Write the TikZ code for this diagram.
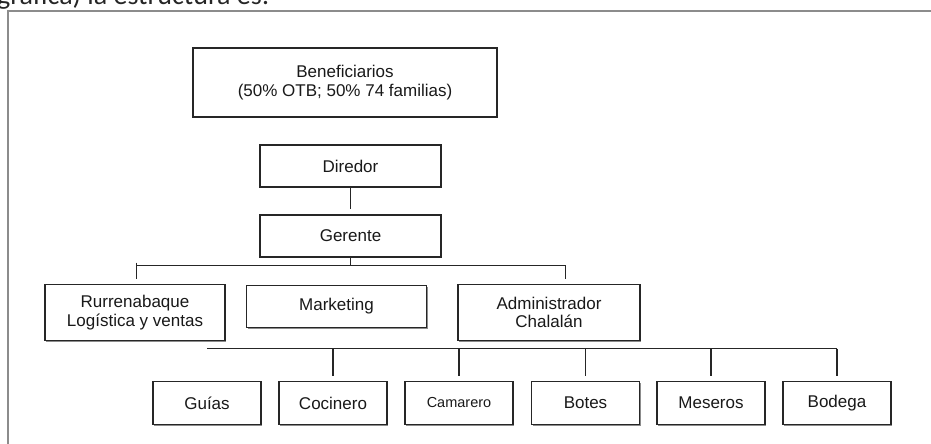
\documentclass[tikz,border=0pt]{standalone}
\usepackage{fontspec}
\setmainfont{Liberation Sans}
\newfontfamily\bodyfont{Carlito}
\usetikzlibrary{calc,shadows}
\begin{document}
\begin{tikzpicture}[x=1pt,y=-1pt,
  box/.style={draw=black!85, line width=1.3pt, fill=white, inner sep=0pt,
    align=center, font=\fontsize{17}{18.5}\selectfont, text=black!90,
    drop shadow={shadow xshift=1.3pt, shadow yshift=-1.3pt, opacity=1, fill=black!45}},
  link/.style={draw=black!85, line width=1.3pt},
  frameline/.style={draw=black!45, line width=1.5pt}]
\useasboundingbox (0,0) rectangle (931,444);
\clip (0,0) rectangle (931,444);
\fill[white] (0,0) rectangle (931,444);

% cropped text line at the top
\node[anchor=base west, inner sep=0pt, font=\bodyfont\fontsize{28}{30}\selectfont, text=black!85] (intro) at (-3,5) {gráfica) la estructura es:};

% frame
\coordinate (fa) at (8,444);
\coordinate (fb) at (8,11);
\coordinate (fc) at (931,11);
\draw[frameline] (fa) -- (fb) -- (fc);

% boxes
\node[box, minimum width=304pt, minimum height=69pt] (ben) at (345,82.5)
  {Beneficiarios\\(50\% OTB; 50\% 74 familias)};
\node[box, minimum width=181pt, minimum height=42pt] (dir) at (350.5,166) {Diredor};
\node[box, minimum width=181pt, minimum height=42pt] (ger) at (350.5,236) {Gerente};

\node[box, minimum width=180pt, minimum height=56pt] (rur) at (135,312.5)
  {Rurrenabaque\\Logística y ventas};
\node[box, minimum width=180pt, minimum height=42pt] (mkt) at (336.5,306.5) {Marketing};
\node[box, minimum width=182pt, minimum height=56pt] (adm) at (549,312.5)
  {Administrador\\Chalalán};

\node[box, minimum width=108pt, minimum height=43pt] (gui) at (207,403) {Guías};
\node[box, minimum width=108pt, minimum height=43pt] (coc) at (333,403) {Cocinero};
\node[box, minimum width=108pt, minimum height=43pt, font=\fontsize{14.5}{16}\selectfont] (cam) at (459,403) {\raisebox{2pt}{Camarero}};
\node[box, minimum width=108pt, minimum height=43pt] (bot) at (585.5,403) {Botes};
\node[box, minimum width=108pt, minimum height=43pt] (mes) at (711,403) {Meseros};
\node[box, minimum width=108pt, minimum height=43pt] (bod) at (837,403) {Bodega};

% Director -> Gerente
\draw[link] (dir.south) -- ($(ger.north)+(0,-5)$);

% Gerente -> level 3
\coordinate (g1) at ($(ger.south)+(0,8)$);
\coordinate (l3a) at ($(rur.north)+(1.7,-5)$);
\coordinate (l3b) at ($(adm.north west)!0.59!(adm.north east)+(0,-5)$);
\draw[link] (ger.south) -- (g1);
\draw[link] (g1 -| l3a) -- (g1 -| l3b);
\draw[link] ($(g1 -| l3a)+(0,-3)$) -- (l3a);
\draw[link] (g1 -| l3b) -- (l3b);

% Administrador -> level 4
\coordinate (h4) at (0,348.5);
\draw[link] (h4 -| gui.north) -- (h4 -| bod.north);
\foreach \n in {coc,cam,bot,mes,bod}{
  \draw[link] (h4 -| \n.north) -- ($(\n.north)+(0,-5)$);
}
\end{tikzpicture}
\end{document}
